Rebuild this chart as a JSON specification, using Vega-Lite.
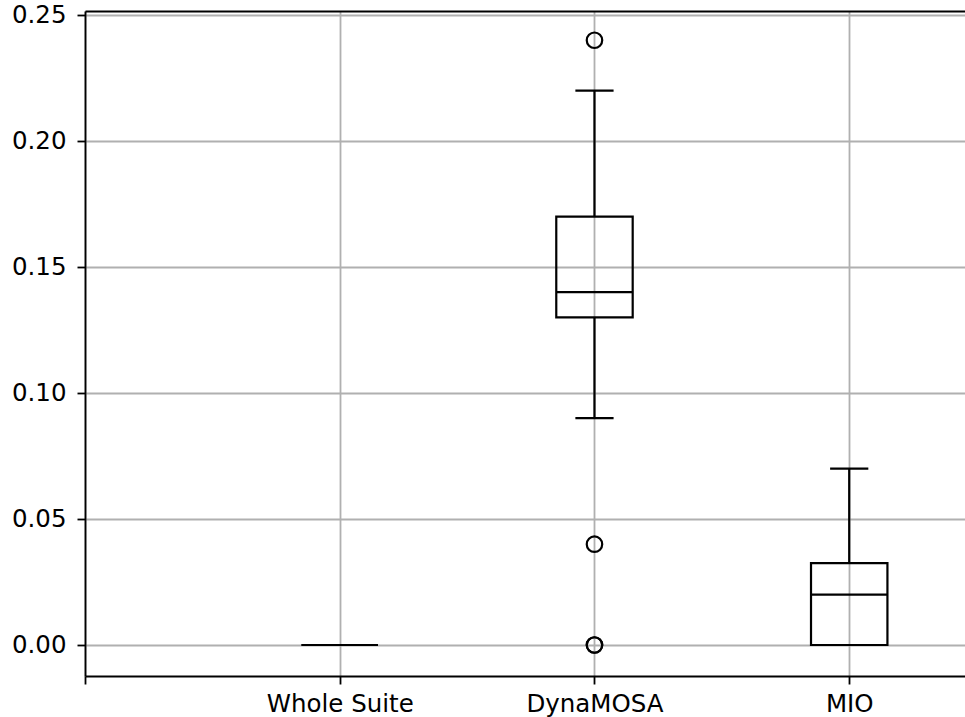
{
  "$schema": "https://vega.github.io/schema/vega-lite/v6.json",
  "width": 880,
  "height": 665,
  "autosize": "none",
  "padding": {"left": 85, "top": 11, "right": 0, "bottom": 41},
  "background": "white",
  "datasets": {
    "stats": [
      {"group": "Whole Suite", "lower": 0.0, "q1": 0.0, "median": 0.0, "q3": 0.0, "upper": 0.0},
      {"group": "DynaMOSA", "lower": 0.09, "q1": 0.13, "median": 0.14, "q3": 0.17, "upper": 0.22},
      {"group": "MIO", "lower": 0.0, "q1": 0.0, "median": 0.02, "q3": 0.0325, "upper": 0.07}
    ],
    "outliers": [
      {"group": "DynaMOSA", "value": 0.24},
      {"group": "DynaMOSA", "value": 0.04},
      {"group": "DynaMOSA", "value": 0.0},
      {"group": "DynaMOSA", "value": 0.0}
    ]
  },
  "data": {"name": "stats"},
  "transform": [
    {"calculate": "indexof(['', 'Whole Suite', 'DynaMOSA', 'MIO'], datum.group)", "as": "pos"},
    {"calculate": "datum.pos - 0.15", "as": "boxL"},
    {"calculate": "datum.pos + 0.15", "as": "boxR"},
    {"calculate": "datum.pos - 0.075", "as": "capL"},
    {"calculate": "datum.pos + 0.075", "as": "capR"}
  ],
  "resolve": {"axis": {"x": "independent"}},
  "layer": [
    {
      "mark": {"type": "rule", "color": "black", "strokeWidth": 2.2},
      "encoding": {
        "x": {"field": "pos", "type": "quantitative", "scale": {"domain": [0, 3.4545], "nice": false, "zero": false},
          "axis": {"orient": "bottom", "values": [0, 1, 2, 3], "labelExpr": "datum.value == 1 ? 'Whole Suite' : datum.value == 2 ? 'DynaMOSA' : datum.value == 3 ? 'MIO' : ''", "title": null}},
        "y": {"field": "lower", "type": "quantitative", "scale": {"domain": [-0.0123, 0.2516], "nice": false, "zero": false},
          "axis": {"values": [0, 0.05, 0.1, 0.15, 0.2, 0.25], "format": ".2f", "title": null}},
        "y2": {"field": "q1"}
      }
    },
    {
      "mark": {"type": "rule", "color": "black", "strokeWidth": 2.2},
      "encoding": {
        "x": {"field": "pos", "type": "quantitative", "axis": {"orient": "top", "labels": false, "ticks": false, "grid": false, "domain": true, "title": null}},
        "y": {"field": "q3", "type": "quantitative"},
        "y2": {"field": "upper"}
      }
    },
    {
      "mark": {"type": "rule", "color": "black", "strokeWidth": 2.2},
      "encoding": {
        "x": {"field": "capL", "type": "quantitative", "axis": null},
        "x2": {"field": "capR"},
        "y": {"field": "lower", "type": "quantitative"}
      }
    },
    {
      "mark": {"type": "rule", "color": "black", "strokeWidth": 2.2},
      "encoding": {
        "x": {"field": "capL", "type": "quantitative", "axis": null},
        "x2": {"field": "capR"},
        "y": {"field": "upper", "type": "quantitative"}
      }
    },
    {
      "mark": {"type": "rect", "fill": null, "fillOpacity": 0, "stroke": "black", "strokeWidth": 2.2},
      "encoding": {
        "x": {"field": "boxL", "type": "quantitative", "axis": null},
        "x2": {"field": "boxR"},
        "y": {"field": "q1", "type": "quantitative"},
        "y2": {"field": "q3"}
      }
    },
    {
      "mark": {"type": "rule", "color": "black", "strokeWidth": 2.2},
      "encoding": {
        "x": {"field": "boxL", "type": "quantitative", "axis": null},
        "x2": {"field": "boxR"},
        "y": {"field": "median", "type": "quantitative"}
      }
    },
    {
      "data": {"name": "outliers"},
      "transform": [
        {"calculate": "indexof(['', 'Whole Suite', 'DynaMOSA', 'MIO'], datum.group)", "as": "pos"}
      ],
      "mark": {"type": "point", "shape": "circle", "filled": false, "color": "black", "strokeWidth": 2.2, "size": 240, "opacity": 1},
      "encoding": {
        "x": {"field": "pos", "type": "quantitative", "axis": null},
        "y": {"field": "value", "type": "quantitative"}
      }
    }
  ],
  "config": {
    "view": {"stroke": null},
    "axis": {
      "labelFont": "DejaVu Sans",
      "labelFontSize": 24.5,
      "labelColor": "black",
      "domainColor": "black",
      "domainWidth": 1.8,
      "tickColor": "black",
      "tickWidth": 1.8,
      "tickSize": 8,
      "grid": true,
      "gridColor": "#b0b0b0",
      "gridWidth": 1.8,
      "labelFlush": false,
      "labelOverlap": false
    },
    "axisX": {"labelPadding": 8},
    "axisY": {"labelPadding": 11}
  }
}
